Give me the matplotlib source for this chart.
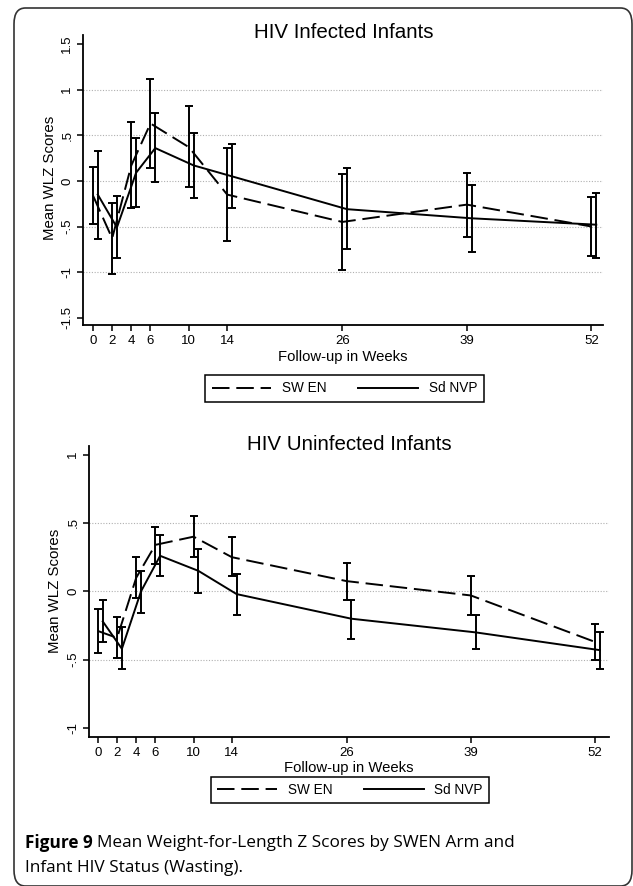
import matplotlib
matplotlib.use("Agg")
import matplotlib.pyplot as plt
from matplotlib.patches import FancyBboxPatch
from matplotlib.lines import Line2D
import numpy as np

weeks = [0, 2, 4, 6, 10, 14, 26, 39, 52]
xtick_labels = ["0", "2", "4", "6", "10", "14", "26", "39", "52"]

# HIV infected infants
inf_swen_mean = [-0.16, -0.63, 0.17, 0.63, 0.37, -0.15, -0.45, -0.26, -0.50]
inf_swen_lo   = [-0.47, -1.02, -0.30, 0.14, -0.07, -0.66, -0.98, -0.62, -0.82]
inf_swen_hi   = [0.15, -0.24, 0.65, 1.12, 0.82, 0.36, 0.08, 0.09, -0.18]
inf_nvp_mean  = [-0.15, -0.51, 0.09, 0.36, 0.17, 0.05, -0.31, -0.41, -0.48]
inf_nvp_lo    = [-0.64, -0.85, -0.29, -0.01, -0.19, -0.30, -0.75, -0.78, -0.84]
inf_nvp_hi    = [0.33, -0.16, 0.47, 0.74, 0.52, 0.41, 0.14, -0.05, -0.13]

# HIV uninfected infants
un_swen_mean = [-0.29, -0.34, 0.10, 0.34, 0.40, 0.25, 0.075, -0.03, -0.37]
un_swen_lo   = [-0.45, -0.49, -0.05, 0.20, 0.25, 0.11, -0.06, -0.17, -0.50]
un_swen_hi   = [-0.13, -0.19, 0.25, 0.47, 0.55, 0.40, 0.21, 0.11, -0.24]
un_nvp_mean  = [-0.22, -0.42, 0.00, 0.26, 0.15, -0.02, -0.20, -0.30, -0.43]
un_nvp_lo    = [-0.37, -0.57, -0.16, 0.11, -0.01, -0.17, -0.35, -0.42, -0.57]
un_nvp_hi    = [-0.06, -0.26, 0.15, 0.41, 0.31, 0.13, -0.06, -0.17, -0.30]

series_labels = ["SW EN", "Sd NVP"]

top_yticks = [1.5, 1, 0.5, 0, -0.5, -1, -1.5]
top_ylabels = ["1.5", "1", ".5", "0", "-.5", "-1", "-1.5"]
bot_yticks = [1, 0.5, 0, -0.5, -1]
bot_ylabels = ["1", ".5", "0", "-.5", "-1"]

FONT = ["Liberation Sans", "DejaVu Sans"]
W, H = 633, 886
fig = plt.figure(figsize=(W / 100, H / 100), dpi=100)

# frame
frame = FancyBboxPatch((14 / W, 1 - 886 / H), (632 - 14) / W, (886 - 8) / H,
                       boxstyle="round,pad=0,rounding_size=0.018",
                       transform=fig.transFigure, fill=False,
                       edgecolor="#333333", linewidth=1.2, clip_on=False)
fig.patches.append(frame)

dash = (9, 3.5)
offset = 0.5


def panel(rect, ylim, xlim, yticks, ylabels, grid_vals, data, title_xy, title,
          ylab_xy, xlab_xy, leg_xy):
    ax = fig.add_axes(rect)
    sm, slo, shi, nm, nlo, nhi = [np.array(a) for a in data]
    xs = np.array(weeks, dtype=float)
    xn = xs + offset
    for g in grid_vals:
        ax.axhline(g, color="#b0b0b0", lw=0.8, ls=(0, (1, 1.5)), zorder=0)
    ax.errorbar(xs, sm, yerr=[sm - slo, shi - sm], fmt="none", ecolor="black",
                elinewidth=1.4, capsize=2.6, capthick=1.4, zorder=3)
    ax.errorbar(xn, nm, yerr=[nm - nlo, nhi - nm], fmt="none", ecolor="black",
                elinewidth=1.4, capsize=2.6, capthick=1.4, zorder=3)
    ax.plot(xs, sm, color="black", lw=1.4, ls=(0, dash), zorder=4)
    ax.plot(xn, nm, color="black", lw=1.4, zorder=4)
    ax.set_xlim(*xlim)
    ax.set_ylim(*ylim)
    for s in ["top", "right"]:
        ax.spines[s].set_visible(False)
    for s in ["left", "bottom"]:
        ax.spines[s].set_linewidth(1.3)
    ax.set_xticks(weeks)
    ax.set_xticklabels(xtick_labels, fontfamily=FONT, fontsize=9.5)
    ax.set_yticks(yticks)
    ax.set_yticklabels(ylabels, fontfamily=FONT, fontsize=9.5, rotation=90,
                       va="center")
    ax.tick_params(axis="both", length=4, width=1.1, pad=3)
    ax.set_facecolor("none")
    fig.text(title_xy[0] / W, 1 - title_xy[1] / H, title, fontfamily=FONT,
             fontsize=14.8, ha="center", va="center")
    fig.text(ylab_xy[0] / W, 1 - ylab_xy[1] / H, "Mean WLZ Scores",
             fontfamily=FONT, fontsize=10.8, rotation=90, ha="center",
             va="center")
    fig.text(xlab_xy[0] / W, 1 - xlab_xy[1] / H, "Follow-up in Weeks",
             fontfamily=FONT, fontsize=10.7, ha="center", va="center")
    h1 = Line2D([], [], color="black", lw=1.4, ls=(0, dash))
    h2 = Line2D([], [], color="black", lw=1.4)
    leg = fig.legend([h1, h2], series_labels, loc="center",
                     bbox_to_anchor=(leg_xy[0] / W, 1 - leg_xy[1] / H),
                     ncol=2, handlelength=4.4, columnspacing=2.3,
                     handletextpad=0.8, borderpad=0.45, fancybox=False,
                     framealpha=1, edgecolor="black",
                     prop={"family": FONT, "size": 9.8})
    leg.get_frame().set_linewidth(1.1)
    return ax


panel([83 / W, 1 - 325 / H, (603 - 83) / W, (325 - 35) / H],
      (-1.58, 1.60), (-1.04, 53.2), top_yticks, top_ylabels,
      [1, 0.5, 0, -0.5, -1],
      [inf_swen_mean, inf_swen_lo, inf_swen_hi, inf_nvp_mean, inf_nvp_lo, inf_nvp_hi],
      (344, 33), "HIV Infected Infants", (50, 178), (343, 357), (344.5, 388.5))

panel([89 / W, 1 - 737 / H, (609 - 89) / W, (737 - 446) / H],
      (-1.065, 1.063), (-0.94, 53.45), bot_yticks, bot_ylabels,
      [0.5, 0, -0.5],
      [un_swen_mean, un_swen_lo, un_swen_hi, un_nvp_mean, un_nvp_lo, un_nvp_hi],
      (349, 445), "HIV Uninfected Infants", (55, 591), (349, 768), (350, 790))

# caption
CAP = ["Open Sans", "DejaVu Sans"]
fig.canvas.draw()
t1 = fig.text(25 / W, 1 - 843 / H, "Figure 9", fontfamily=CAP, fontsize=12.4,
              fontweight="bold", ha="left", va="center")
r = fig.canvas.get_renderer()
bb = t1.get_window_extent(renderer=r)
fig.text(bb.x1 / W + 4 / W, 1 - 843 / H,
         "Mean Weight-for-Length Z Scores by SWEN Arm and", fontfamily=CAP,
         fontsize=12.4, ha="left", va="center")
fig.text(25 / W, 1 - 868 / H, "Infant HIV Status (Wasting).", fontfamily=CAP,
         fontsize=12.4, ha="left", va="center")

fig.savefig("out.png", dpi=100)
